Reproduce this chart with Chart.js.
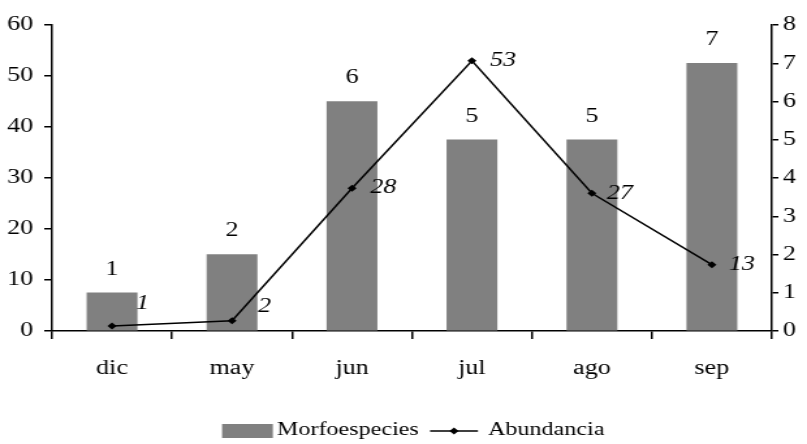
<!DOCTYPE html>
<html>
<head>
<meta charset="utf-8">
<script src="https://cdn.jsdelivr.net/npm/chart.js@4"></script>
<style>
  html, body { margin: 0; padding: 0; background: #fff; overflow: hidden; }
  #wrap { width: 620px; height: 444px; transform: scaleX(1.30161); transform-origin: 0 0; }
</style>
</head>
<body>
<div id="wrap"><canvas id="chart" width="620" height="444"></canvas></div>
<script>
// Monthly samples
const months = ['dic', 'may', 'jun', 'jul', 'ago', 'sep'];
// Number of morphospecies per month (right axis)
const morfoespecies = [1, 2, 6, 5, 5, 7];
// Number of individuals per month (left axis)
const abundancia = [1, 2, 28, 53, 27, 13];
// Axis ticks
const leftTicks = [0, 10, 20, 30, 40, 50, 60];
const rightTicks = [0, 1, 2, 3, 4, 5, 6, 7, 8];

const FONT = "'Liberation Serif', 'Times New Roman', serif";
const SIZE = 20;
const LEGEND_SIZE = 18.5;

// label nudges for the abundance values (x shift, upward lift)
const lineLabelDx = [18.5, 20, 14, 14, 11.5, 13];
const lineLabelLift = [22, 14, 0, 0, 0, 0];

const valueLabels = {
  id: 'valueLabels',
  afterDatasetsDraw(chart) {
    const ctx = chart.ctx;
    ctx.save();
    ctx.fillStyle = '#000';
    ctx.textBaseline = 'middle';
    // bar values, upright, centred above each bar
    ctx.font = SIZE + 'px ' + FONT;
    ctx.textAlign = 'center';
    chart.getDatasetMeta(0).data.forEach((el, i) => {
      ctx.fillText(String(morfoespecies[i]), el.x, el.y - 23.5);
    });
    // abundance values, italic, right of each point
    ctx.font = 'italic ' + SIZE + 'px ' + FONT;
    ctx.textAlign = 'left';
    chart.getDatasetMeta(1).data.forEach((el, i) => {
      ctx.fillText(String(abundancia[i]), el.x + lineLabelDx[i], el.y - lineLabelLift[i]);
    });
    ctx.restore();
  }
};

const bottomLegend = {
  id: 'bottomLegend',
  afterDraw(chart) {
    const ctx = chart.ctx;
    const yMid = 431;
    ctx.save();
    ctx.font = LEGEND_SIZE + 'px ' + FONT;
    ctx.textBaseline = 'middle';
    ctx.textAlign = 'left';
    // bar entry
    ctx.fillStyle = '#808080';
    ctx.fillRect(170.6, 424, 39, 14);
    ctx.fillStyle = '#000';
    ctx.fillText('Morfoespecies', 212.8, 430.5);
    // line entry
    ctx.strokeStyle = '#000';
    ctx.lineWidth = 1.5;
    ctx.beginPath();
    ctx.moveTo(330.4, yMid);
    ctx.lineTo(367.2, yMid);
    ctx.stroke();
    const cx = 348.8, r = 3.5;
    ctx.beginPath();
    ctx.moveTo(cx, yMid - r);
    ctx.lineTo(cx + r, yMid);
    ctx.lineTo(cx, yMid + r);
    ctx.lineTo(cx - r, yMid);
    ctx.closePath();
    ctx.fill();
    ctx.fillText('Abundancia', 375, 430.5);
    ctx.restore();
  }
};

new Chart(document.getElementById('chart'), {
  data: {
    labels: months,
    datasets: [
      {
        type: 'bar',
        label: 'Morfoespecies',
        data: morfoespecies,
        yAxisID: 'y2',
        backgroundColor: '#808080',
        borderWidth: 0,
        barThickness: 38.4,
        order: 2
      },
      {
        type: 'line',
        label: 'Abundancia',
        data: abundancia,
        yAxisID: 'y',
        borderColor: '#000',
        backgroundColor: '#000',
        borderWidth: 1.5,
        pointStyle: 'rectRot',
        pointRadius: 3.5,
        pointBorderWidth: 0,
        tension: 0,
        order: 1
      }
    ]
  },
  options: {
    responsive: false,
    animation: false,
    devicePixelRatio: 1,
    layout: { padding: { top: 25, left: 0, right: 0, bottom: 0 } },
    plugins: { legend: { display: false }, tooltip: { enabled: false } },
    scales: {
      x: {
        type: 'category',
        offset: true,
        grid: { display: true, drawOnChartArea: false, drawTicks: true, tickLength: 8, color: '#000', lineWidth: 1.5, offset: true },
        border: { display: true, color: '#000', width: 1.5 },
        ticks: { color: '#000', font: { family: FONT, size: SIZE }, padding: 17.5, maxRotation: 0 },
        afterFit(s) { s.height = 113; }
      },
      y: {
        position: 'left',
        min: 0, max: 60,
        afterBuildTicks(s) { s.ticks = leftTicks.map(v => ({ value: v })); },
        grid: { display: true, drawOnChartArea: false, drawTicks: true, tickLength: 6, color: '#000', lineWidth: 1.5 },
        border: { display: true, color: '#000', width: 1.5 },
        ticks: { color: '#000', font: { family: FONT, size: SIZE }, padding: 8.5 },
        afterFit(s) { s.width = 40; }
      },
      y2: {
        position: 'right',
        min: 0, max: 8,
        afterBuildTicks(s) { s.ticks = rightTicks.map(v => ({ value: v })); },
        grid: { display: true, drawOnChartArea: false, drawTicks: true, tickLength: 5, color: '#000', lineWidth: 1.5 },
        border: { display: true, color: '#000', width: 1.5 },
        ticks: { color: '#000', font: { family: FONT, size: SIZE }, padding: 3.5 },
        afterFit(s) { s.width = 27; }
      }
    }
  },
  plugins: [valueLabels, bottomLegend]
});
</script>
</body>
</html>
